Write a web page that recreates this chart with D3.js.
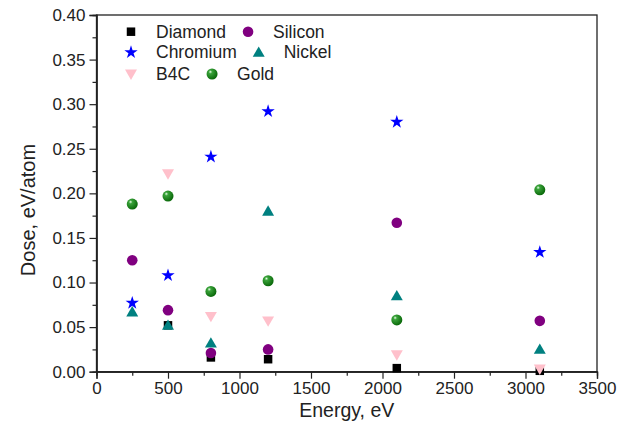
<!DOCTYPE html>
<html><head><meta charset="utf-8">
<script src="https://cdn.jsdelivr.net/npm/d3@7"></script>
<style>body{margin:0;background:#fff}svg{display:block;font-family:"Liberation Sans",Arial,sans-serif}</style>
</head><body>
<svg id="c" width="628" height="429"></svg>
<script>
const energies = [250, 500, 800, 1200, 2100, 3100];
const diamond  = [null, 0.052, 0.016, 0.014, 0.004, 0.001];
const silicon  = [0.125, 0.069, 0.021, 0.025, 0.167, 0.057];
const chromium = [0.077, 0.108, 0.241, 0.292, 0.280, 0.134];
const nickel   = [0.067, 0.052, 0.032, 0.180, 0.085, 0.025];
const b4c      = [null, 0.222, 0.062, 0.057, 0.019, 0.003];
const gold     = [0.188, 0.197, 0.090, 0.102, 0.058, 0.204];
const seriesNames = ["Diamond", "Silicon", "Chromium", "Nickel", "B4C", "Gold"];
const xTicks = [0, 500, 1000, 1500, 2000, 2500, 3000, 3500];
const yTicks = [0, 0.05, 0.10, 0.15, 0.20, 0.25, 0.30, 0.35, 0.40];

const series = [
  {name: seriesNames[0], values: diamond,  type: "square",  color: "#000000"},
  {name: seriesNames[1], values: silicon,  type: "circle",  color: "#800080"},
  {name: seriesNames[2], values: chromium, type: "star",    color: "#0000ff"},
  {name: seriesNames[3], values: nickel,   type: "tri",     color: "#008080"},
  {name: seriesNames[4], values: b4c,      type: "tridown", color: "#ffc0cb"},
  {name: seriesNames[5], values: gold,     type: "sphere",  color: "#008000"}
];

const svg = d3.select("#c");
const L = 96.5, R = 597, T = 15, B = 371.7;
const x = d3.scaleLinear().domain([0, 3500]).range([L, R]);
const y = d3.scaleLinear().domain([0, 0.40]).range([B, T]);

const defs = svg.append("defs");
const grad = defs.append("radialGradient").attr("id", "sph").attr("cx", "35%").attr("cy", "35%").attr("r", "65%").attr("fx","35%").attr("fy","30%");
grad.append("stop").attr("offset", "0%").attr("stop-color", "#e8ffe8");
grad.append("stop").attr("offset", "25%").attr("stop-color", "#3aa33a");
grad.append("stop").attr("offset", "100%").attr("stop-color", "#0b6a0b");

// frame
svg.append("rect").attr("x", L).attr("y", T).attr("width", R - L).attr("height", B - T)
  .attr("fill", "none").attr("stroke", "#222").attr("stroke-width", 1.3);

// axes
const xMinor = d3.range(250, 3500, 500);
const yMinor = d3.range(0.025, 0.40, 0.05);
const gx = svg.append("g").attr("transform", `translate(0,${B})`);
gx.call(d3.axisBottom(x).tickValues(xTicks).tickFormat(d3.format("d")).tickSize(7).tickPadding(3));
gx.append("g").call(d3.axisBottom(x).tickValues(xMinor).tickFormat("").tickSize(4));
const gy = svg.append("g").attr("transform", `translate(${L},0)`);
gy.call(d3.axisLeft(y).tickValues(yTicks).tickFormat(d3.format(".2f")).tickSize(7).tickPadding(4));
gy.append("g").call(d3.axisLeft(y).tickValues(yMinor).tickFormat("").tickSize(4));
svg.selectAll(".domain").attr("stroke", "#222").attr("stroke-width", 1.3);
svg.selectAll(".tick line").attr("stroke", "#222").attr("stroke-width", 1.2);
gx.attr("font-size", 17).attr("font-family", "Liberation Sans, Arial, sans-serif");
gy.attr("font-size", 17).attr("font-family", "Liberation Sans, Arial, sans-serif");
svg.selectAll(".tick text").attr("fill", "#222");

// titles
svg.append("text").attr("x", (L + R) / 2).attr("y", 417).attr("text-anchor", "middle")
  .attr("font-size", 19.5).attr("fill", "#222").text("Energy, eV");
svg.append("text").attr("transform", `translate(35,210) rotate(-90)`).attr("text-anchor", "middle")
  .attr("font-size", 20).attr("fill", "#222").text("Dose, eV/atom");

function drawMarker(g, type, color) {
  if (type === "square") g.append("path").attr("d", d3.symbol(d3.symbolSquare, 72)()).attr("fill", color);
  else if (type === "circle") g.append("circle").attr("r", 5.3).attr("fill", color);
  else if (type === "star") g.append("path").attr("d", d3.symbol(d3.symbolStar, 55)()).attr("fill", color);
  else if (type === "tri") g.append("path").attr("d", d3.symbol(d3.symbolTriangle, 62)()).attr("transform","translate(0,1)").attr("fill", color);
  else if (type === "tridown") g.append("path").attr("d", d3.symbol(d3.symbolTriangle, 62)()).attr("transform", "translate(0,-1) rotate(180)").attr("fill", color);
  else if (type === "sphere") g.append("circle").attr("r", 5.5).attr("fill", "url(#sph)");
}

const plot = svg.append("g");
series.forEach(s => {
  s.values.forEach((v, i) => {
    if (v === null) return;
    const g = plot.append("g").attr("transform", `translate(${x(energies[i])},${y(v)})`);
    drawMarker(g, s.type, s.color);
  });
});

// legend
const rows = [[0, 1], [2, 3], [4, 5]];
const rowY = [31.7, 52.3, 74];
rows.forEach((r, ri) => {
  let mx = 131;
  r.forEach(si => {
    const s = series[si];
    const g = svg.append("g").attr("transform", `translate(${mx},${rowY[ri]})`);
    drawMarker(g, s.type, s.color);
    const t = svg.append("text").attr("x", mx + 25).attr("y", rowY[ri] + 6).attr("font-size", 17.5)
      .attr("fill", "#222").text(s.name);
    mx = mx + 25 + t.node().getComputedTextLength() + 22;
  });
});
</script>
</body></html>
